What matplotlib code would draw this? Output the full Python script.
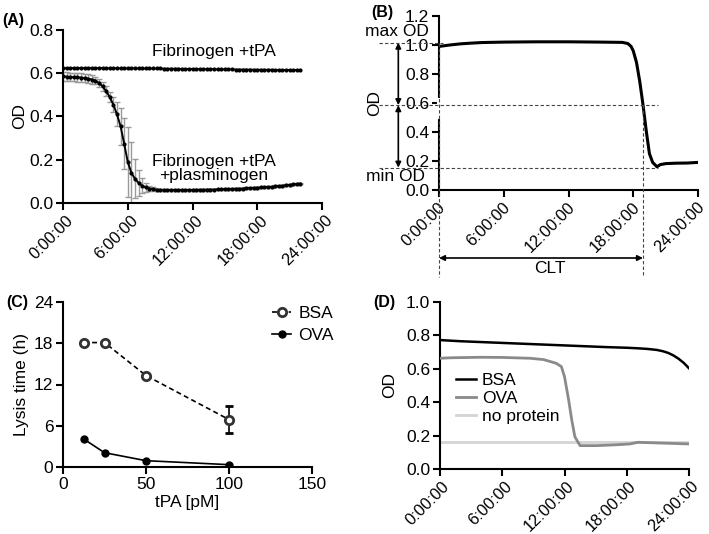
import numpy as np
import matplotlib
matplotlib.use('Agg')
import matplotlib.pyplot as plt
import matplotlib.transforms as mtransforms

plt.rcParams['font.family'] = ['Liberation Sans', 'DejaVu Sans']
plt.rcParams['font.size'] = 12.5

# ---------------- Panel A data ----------------
a_time_h = np.arange(67) / 3.0
a_tpa = [0.623, 0.624, 0.624, 0.624, 0.624, 0.624, 0.624, 0.624, 0.624, 0.624,
         0.624, 0.624, 0.624, 0.623, 0.623, 0.623, 0.623, 0.623, 0.623, 0.623,
         0.623, 0.623, 0.622, 0.622, 0.622, 0.622, 0.622, 0.622, 0.621, 0.621,
         0.621, 0.621, 0.621, 0.620, 0.620, 0.620, 0.620, 0.620, 0.619, 0.619,
         0.619, 0.619, 0.619, 0.618, 0.618, 0.618, 0.618, 0.618, 0.617, 0.617,
         0.617, 0.617, 0.617, 0.616, 0.616, 0.616, 0.616, 0.616, 0.616, 0.615,
         0.615, 0.615, 0.615, 0.615, 0.615, 0.615, 0.615]
a_plg = [0.585, 0.584, 0.583, 0.582, 0.581, 0.580, 0.578, 0.575, 0.571, 0.566,
         0.555, 0.540, 0.517, 0.490, 0.455, 0.410, 0.355, 0.275, 0.190, 0.140,
         0.112, 0.093, 0.080, 0.072, 0.067, 0.064, 0.062, 0.061, 0.060, 0.060,
         0.060, 0.060, 0.060, 0.060, 0.060, 0.060, 0.060, 0.061, 0.061, 0.061,
         0.062, 0.062, 0.062, 0.063, 0.063, 0.064, 0.064, 0.065, 0.066, 0.066,
         0.067, 0.068, 0.069, 0.070, 0.071, 0.072, 0.073, 0.074, 0.075, 0.077,
         0.078, 0.080, 0.082, 0.084, 0.086, 0.088, 0.090]
a_plg_err = [0.020, 0.020, 0.020, 0.020, 0.020, 0.020, 0.020, 0.020, 0.020, 0.018,
             0.020, 0.020, 0.022, 0.025, 0.035, 0.055, 0.085, 0.120, 0.160, 0.140,
             0.090, 0.060, 0.035, 0.020, 0.012, 0.008, 0.005, 0.005, 0.004, 0.004,
             0.004, 0.004, 0.004, 0.004, 0.004, 0.004, 0.004, 0.004, 0.004, 0.004,
             0.004, 0.004, 0.004, 0.004, 0.004, 0.004, 0.004, 0.004, 0.004, 0.004,
             0.004, 0.004, 0.004, 0.004, 0.004, 0.004, 0.004, 0.004, 0.004, 0.004,
             0.004, 0.004, 0.004, 0.004, 0.004, 0.004, 0.004]
time_ticks_h = [0, 6, 12, 18, 24]
time_labels = ['0:00:00', '6:00:00', '12:00:00', '18:00:00', '24:00:00']

# ---------------- Panel B data ----------------
b_time_h = [0, 0.5, 1, 2, 3, 4, 6, 9, 12, 15, 16, 17, 17.5, 17.8, 18.0, 18.3,
            18.6, 18.9, 19.2, 19.5, 19.8, 20.2, 20.5, 21, 22, 23, 23.9]
b_od = [0.99, 0.995, 1.0, 1.008, 1.013, 1.017, 1.02, 1.022, 1.022, 1.02, 1.019,
        1.018, 1.01, 0.99, 0.96, 0.88, 0.75, 0.59, 0.41, 0.25, 0.19, 0.16, 0.175,
        0.182, 0.185, 0.186, 0.19]
b_max_od = 1.016
b_half_od = 0.585
b_min_od = 0.154
b_clt_h = 18.9

# ---------------- Panel C data ----------------
c_tpa_pm = [12.5, 25, 50, 100]
c_bsa_h = [18.1, 18.1, 13.3, 6.9]
c_bsa_err = [0, 0, 0, 1.95]
c_ova_h = [4.07, 2.08, 0.92, 0.34]

# ---------------- Panel D data ----------------
d_bsa_t = [0, 2, 4, 6, 8, 10, 12, 14, 16, 18, 19, 20, 20.9, 21.5, 22, 22.5, 23, 23.5, 24]
d_bsa = [0.772, 0.765, 0.76, 0.755, 0.75, 0.745, 0.74, 0.735, 0.73, 0.726, 0.723,
         0.719, 0.713, 0.705, 0.695, 0.68, 0.66, 0.635, 0.603]
d_ova_t = [0, 1, 3.9, 6, 8.7, 10, 11.2, 11.7, 12.0, 12.4, 12.7, 13.0, 13.5, 15.1,
           17, 18.3, 19.1, 20, 21.5, 23, 24]
d_ova = [0.663, 0.666, 0.669, 0.668, 0.663, 0.655, 0.633, 0.613, 0.553, 0.413,
         0.293, 0.193, 0.14, 0.14, 0.145, 0.15, 0.16, 0.158, 0.155, 0.152, 0.15]
d_none_t = [0, 6, 12, 18, 24]
d_none = [0.163, 0.163, 0.163, 0.163, 0.163]

W, H = 709, 534
fig = plt.figure(figsize=(W / 100, H / 100), dpi=100)


def ax_px(l, r, top, bottom):
    return fig.add_axes([l / W, 1 - bottom / H, (r - l) / W, (bottom - top) / H])


def style(ax):
    for s in ('top', 'right'):
        ax.spines[s].set_visible(False)
    for s in ('left', 'bottom'):
        ax.spines[s].set_linewidth(1.5)
    ax.tick_params(direction='out', length=5, width=1.5, labelsize=12.5, pad=2)


def time_axis(ax, shift_in=0.03):
    ax.set_xlim(0, 24)
    ax.set_xticks(time_ticks_h)
    ax.set_xticklabels(time_labels, rotation=45, ha='right', rotation_mode='anchor',
                       fontsize=11.8)
    shift = mtransforms.ScaledTranslation(shift_in, 0, fig.dpi_scale_trans)
    for lab in ax.get_xticklabels():
        lab.set_transform(lab.get_transform() + shift)


# ---------------- Panel A ----------------
axA = ax_px(63, 322, 30, 203)
style(axA)
axA.errorbar(a_time_h, a_plg, yerr=a_plg_err, fmt='none', ecolor='#9a9a9a',
             elinewidth=1, capsize=2.5, capthick=1, zorder=2)
axA.plot(a_time_h, a_plg, '-', color='black', lw=1.4, marker='o', ms=2.0, zorder=3)
axA.plot(a_time_h, a_tpa, '-', color='black', lw=1.4, marker='o', ms=2.0, zorder=3)
axA.set_ylim(0, 0.8)
axA.set_yticks([0, 0.2, 0.4, 0.6, 0.8])
axA.set_yticklabels(['0.0', '0.2', '0.4', '0.6', '0.8'])
time_axis(axA)
axA.set_ylabel('OD')
axA.yaxis.set_label_coords(-0.14, 0.5)
axA.text(14.0, 0.70, 'Fibrinogen +tPA', ha='center', va='center')
axA.text(14.0, 0.16, 'Fibrinogen +tPA\n+plasminogen', ha='center', va='center',
         linespacing=0.95)
fig.text(2 / W, 1 - 21 / H, '(A)', fontweight='bold', fontsize=11.5, va='center')

# ---------------- Panel B ----------------
axB = ax_px(439, 698, 16, 190)
style(axB)
axB.plot(b_time_h, b_od, '-', color='black', lw=2.2, zorder=3)
axB.set_ylim(0, 1.2)
axB.set_yticks([0, 0.2, 0.4, 0.6, 0.8, 1.0, 1.2])
axB.set_yticklabels(['0.0', '0.2', '0.4', '0.6', '0.8', '1.0', '1.2'])
time_axis(axB, shift_in=-0.01)
axB.set_ylabel('OD')
axB.yaxis.set_label_coords(-0.22, 0.5)
dkw = dict(color='#444444', lw=0.8, ls=(0, (3, 2)), clip_on=False, zorder=4)
axB.plot([-5.6, 0.4], [b_max_od, b_max_od], **dkw)
axB.plot([-5.6, 20.3], [b_half_od, b_half_od], **dkw)
axB.plot([-5.6, 20.3], [b_min_od, b_min_od], **dkw)
axB.plot([0, 0], [b_max_od, -0.6], **dkw)
axB.plot([b_clt_h, b_clt_h], [b_half_od, -0.6], **dkw)
# gap in spine
axB.plot([0, 0], [0.505, 0.62], color='white', lw=3, clip_on=False, zorder=3.5)
akw = dict(arrowstyle='<|-|>', color='black', lw=1.2, mutation_scale=8,
           shrinkA=0, shrinkB=0)
axB.annotate('', xy=(-3.77, b_max_od), xytext=(-3.77, b_half_od),
             arrowprops=akw, annotation_clip=False)
axB.annotate('', xy=(-3.77, b_half_od), xytext=(-3.77, b_min_od),
             arrowprops=akw, annotation_clip=False)
axB.annotate('', xy=(0, -0.469), xytext=(b_clt_h, -0.469),
             arrowprops=akw, annotation_clip=False)
axB.text(10.3, -0.49, 'CLT', ha='center', va='top', clip_on=False)
axB.text(-3.9, 1.093, 'max OD', ha='center', va='center', clip_on=False)
axB.text(-4.0, 0.095, 'min OD', ha='center', va='center', clip_on=False)
fig.text(371 / W, 1 - 12 / H, '(B)', fontweight='bold', fontsize=11.5, va='center')

# ---------------- Panel C ----------------
axC = ax_px(63, 312, 302, 467)
style(axC)
axC.errorbar(c_tpa_pm, c_bsa_h, yerr=c_bsa_err, fmt='o', ls=(0, (3, 2)),
             color='black', lw=1.2, mfc='white', mec='#333333', mew=2, ms=6,
             capsize=3, ecolor='black', elinewidth=1.2, capthick=1.2)
ova_l, = axC.plot(c_tpa_pm, c_ova_h, '-', color='black', lw=1.2, marker='o', ms=5)
axC.set_xlim(0, 150)
axC.set_ylim(0, 24)
axC.set_xticks([0, 50, 100, 150])
axC.set_yticks([0, 6, 12, 18, 24])
axC.set_xlabel('tPA [pM]', labelpad=2)
axC.set_ylabel('Lysis time (h)')
axC.yaxis.set_label_coords(-0.135, 0.5)
bsa_handle = axC.plot([], [], ls=(0, (3, 2)), color='black', lw=1.2, marker='o',
                      mfc='white', mec='#333333', mew=2, ms=6)[0]
axC.legend([bsa_handle, ova_l], ['BSA', 'OVA'], loc='upper right',
           bbox_to_anchor=(1.15, 1.07), frameon=False,
           handlelength=1.1, handletextpad=0.4, labelspacing=0.4)
fig.text(6 / W, 1 - 302 / H, '(C)', fontweight='bold', fontsize=11.5, va='center')

# ---------------- Panel D ----------------
axD = ax_px(440, 689, 302, 469)
style(axD)
axD.plot(d_none_t, d_none, '-', color='#d4d4d4', lw=2, label='no protein', zorder=2)
axD.plot(d_ova_t, d_ova, '-', color='#8a8a8a', lw=2, label='OVA', zorder=3)
axD.plot(d_bsa_t, d_bsa, '-', color='black', lw=1.8, label='BSA', zorder=4)
axD.set_ylim(0, 1.0)
axD.set_yticks([0, 0.2, 0.4, 0.6, 0.8, 1.0])
axD.set_yticklabels(['0.0', '0.2', '0.4', '0.6', '0.8', '1.0'])
time_axis(axD, shift_in=0.02)
axD.set_ylabel('OD')
axD.yaxis.set_label_coords(-0.173, 0.5)
h, l = axD.get_legend_handles_labels()
axD.legend(h[::-1], l[::-1], loc='upper left', bbox_to_anchor=(0.0, 0.67), frameon=False,
           handlelength=1.15, handletextpad=0.35, labelspacing=0.18)
fig.text(373 / W, 1 - 303 / H, '(D)', fontweight='bold', fontsize=11.5, va='center')

fig.savefig('out.png', dpi=100)
